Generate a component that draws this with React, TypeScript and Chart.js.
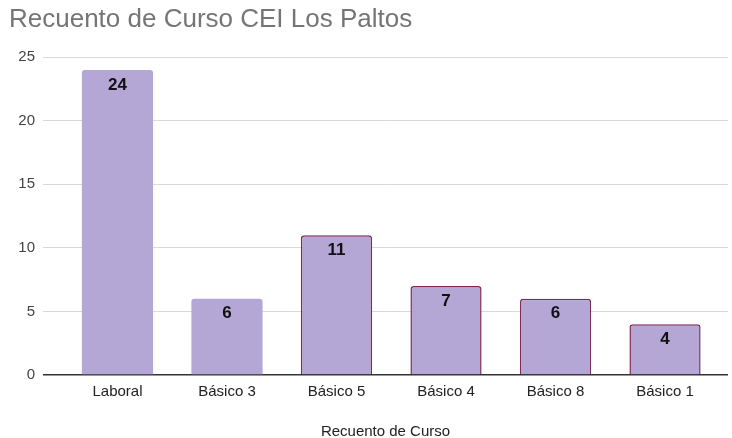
import React, { useEffect, useRef } from "react";
import { Chart, registerables } from "chart.js";

Chart.register(...registerables);

const categories = ["Laboral", "Básico 3", "Básico 5", "Básico 4", "Básico 8", "Básico 1"];
const counts = [24, 6, 11, 7, 6, 4];
const yTicks = [0, 5, 10, 15, 20, 25];
const chartTitle = "Recuento de Curso CEI Los Paltos";
const xAxisTitle = "Recuento de Curso";

const FONT = "'Liberation Sans', Arial, sans-serif";

const valueLabels = {
  id: "valueLabels",
  afterDatasetsDraw(chart: any) {
    const ctx = chart.ctx;
    const meta = chart.getDatasetMeta(0);
    ctx.save();
    ctx.fillStyle = "#111111";
    ctx.font = `bold 17px ${FONT}`;
    ctx.textAlign = "center";
    ctx.textBaseline = "middle";
    meta.data.forEach((bar: any, i: number) => {
      ctx.fillText(String(counts[i]), bar.x, bar.y + 15);
    });
    ctx.restore();
  },
};

export default function App() {
  const ref = useRef<HTMLCanvasElement>(null);
  useEffect(() => {
    if (!ref.current) return;
    const chart = new Chart(ref.current, {
      type: "bar",
      data: {
        datasets: [
          {
            data: counts.map((v, i) => ({ x: i, y: v })),
            backgroundColor: "#b4a7d6",
            borderColor: "#7e2a57",
            borderWidth: [0, 0, 1.5, 1.5, 1.5, 1.5],
            borderRadius: 3,
            borderSkipped: "bottom",
            barPercentage: 0.65,
            categoryPercentage: 1,
          } as any,
        ],
      },
      plugins: [valueLabels],
      options: {
        animation: false,
        responsive: false,
        maintainAspectRatio: false,
        layout: { padding: { left: 9, right: 4, top: 0, bottom: 0 } },
        plugins: {
          legend: { display: false },
          tooltip: { enabled: false },
          title: {
            display: true,
            text: chartTitle,
            align: "start",
            color: "#757575",
            font: { family: FONT, size: 26, weight: "normal" },
            padding: { top: 4, bottom: 22 },
          },
        },
        scales: {
          x: {
            type: "linear",
            offset: false,
            min: -0.68,
            max: 5.575,
            afterBuildTicks: (scale: any) => {
              scale.ticks = categories.map((_, i) => ({ value: i }));
            },
            afterFit: (scale: any) => {
              scale.height = 63;
            },
            grid: { display: false, drawTicks: false, offset: false },
            border: { display: false },
            ticks: {
              autoSkip: false,
              maxRotation: 0,
              padding: 8,
              color: "#222222",
              font: { family: FONT, size: 15 },
              callback: (v: any) => categories[v as number] ?? "",
            },
            title: {
              display: true,
              text: xAxisTitle,
              color: "#222222",
              font: { family: FONT, size: 15 },
              padding: { top: 0, bottom: -3 },
            },
          },
          y: {
            min: 0,
            max: 25,
            afterBuildTicks: (scale: any) => {
              scale.ticks = yTicks.map((v) => ({ value: v }));
            },
            afterFit: (scale: any) => {
              scale.width = 34;
            },
            grid: {
              drawTicks: false,
              color: (c: any) => (c.tick && c.tick.value === 0 ? "#333333" : "#d9d9d9"),
              lineWidth: (c: any) => (c.tick && c.tick.value === 0 ? 1.5 : 1),
            },
            border: { display: false },
            ticks: {
              padding: 8,
              color: "#444444",
              font: { family: FONT, size: 15 },
            },
          },
        },
      },
    });
    return () => chart.destroy();
  }, []);
  return (
    <div style={{ position: "fixed", left: 0, top: 0, width: 732, height: 438, background: "#fff" }}>
      <canvas ref={ref} width={732} height={438} style={{ width: 732, height: 438 }} />
    </div>
  );
}
